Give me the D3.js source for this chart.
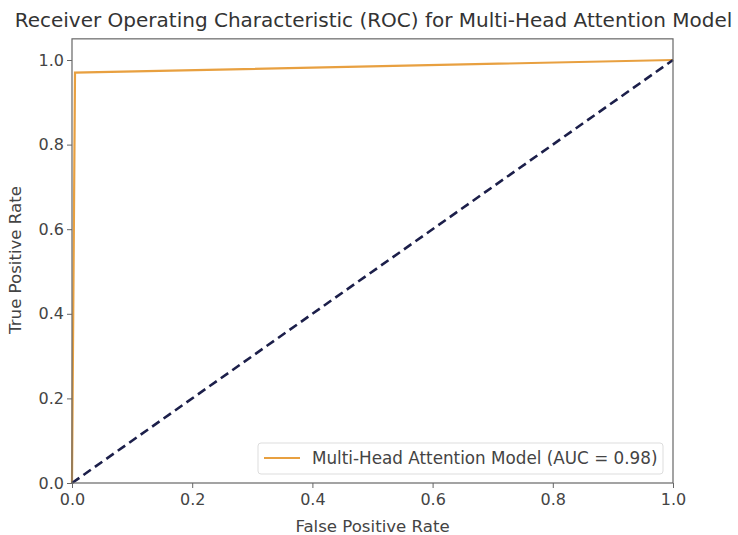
<!DOCTYPE html>
<html><head><meta charset="utf-8">
<script src="https://cdn.jsdelivr.net/npm/d3@7"></script>
<style>body{margin:0;background:#fff}svg{display:block}text{font-family:"DejaVu Sans",sans-serif}</style>
</head><body><svg id="c" width="738" height="535"></svg>
<script>
const fpr = [0, 0.005, 1];
const tpr = [0, 0.97, 1];
const diagX = [0, 1];
const diagY = [0, 1];
const tickVals = [0, 0.2, 0.4, 0.6, 0.8, 1.0];
const title = "Receiver Operating Characteristic (ROC) for Multi-Head Attention Model";
const xLabel = "False Positive Rate";
const yLabel = "True Positive Rate";
const legendLabel = "Multi-Head Attention Model (AUC = 0.98)";

const svg = d3.select("#c");
const L = 72, R = 673, B = 483;
const x = d3.scaleLinear().domain([0, 1]).range([L, R]);
const y = d3.scaleLinear().domain([0, 1]).range([B, 60]);
const T = y(1.05);

const line = d3.line().x(d => x(d[0])).y(d => y(d[1]));

svg.append("path").datum(fpr.map((v,i)=>[v,tpr[i]]))
  .attr("d", line).attr("fill","none").attr("stroke","#e8a040").attr("stroke-width",2.2);
svg.append("path").datum(diagX.map((v,i)=>[v,diagY[i]]))
  .attr("d", line).attr("fill","none").attr("stroke","#1c1f4a").attr("stroke-width",2.6)
  .attr("stroke-dasharray","9,5");

// frame
svg.append("rect").attr("x",L).attr("y",T).attr("width",R-L).attr("height",B-T)
  .attr("fill","none").attr("stroke","#666").attr("stroke-width",1.2);

const xa = svg.append("g").attr("transform",`translate(0,${B})`)
  .call(d3.axisBottom(x).tickValues(tickVals).tickFormat(d3.format(".1f")).tickSize(5).tickPadding(6));
const ya = svg.append("g").attr("transform",`translate(${L},0)`)
  .call(d3.axisLeft(y).tickValues(tickVals).tickFormat(d3.format(".1f")).tickSize(5).tickPadding(3));
[xa,ya].forEach(g=>{
  g.select(".domain").remove();
  g.selectAll("line").attr("stroke","#666");
  g.selectAll("text").attr("fill","#444").style("font-size","16px").style("font-family","DejaVu Sans");
});

svg.append("text").attr("x",(L+R)/2+1).attr("y",27).attr("text-anchor","middle")
  .attr("fill","#333").style("font-size","20px").text(title);
svg.append("text").attr("x",(L+R)/2).attr("y",532).attr("text-anchor","middle")
  .attr("fill","#444").style("font-size","16.6px").text(xLabel);
svg.append("text").attr("transform",`translate(21,260) rotate(-90)`).attr("text-anchor","middle")
  .attr("fill","#444").style("font-size","16.6px").text(yLabel);

// legend
const lg = svg.append("g");
lg.append("rect").attr("x",258).attr("y",443).attr("width",405).attr("height",31).attr("rx",3)
  .attr("fill","#fff").attr("fill-opacity",0.85).attr("stroke","#ddd");
lg.append("line").attr("x1",264).attr("x2",300).attr("y1",458).attr("y2",458)
  .attr("stroke","#e8a040").attr("stroke-width",2.2);
lg.append("text").attr("x",312).attr("y",464).attr("fill","#444").style("font-size","16.8px").text(legendLabel);
</script></body></html>
